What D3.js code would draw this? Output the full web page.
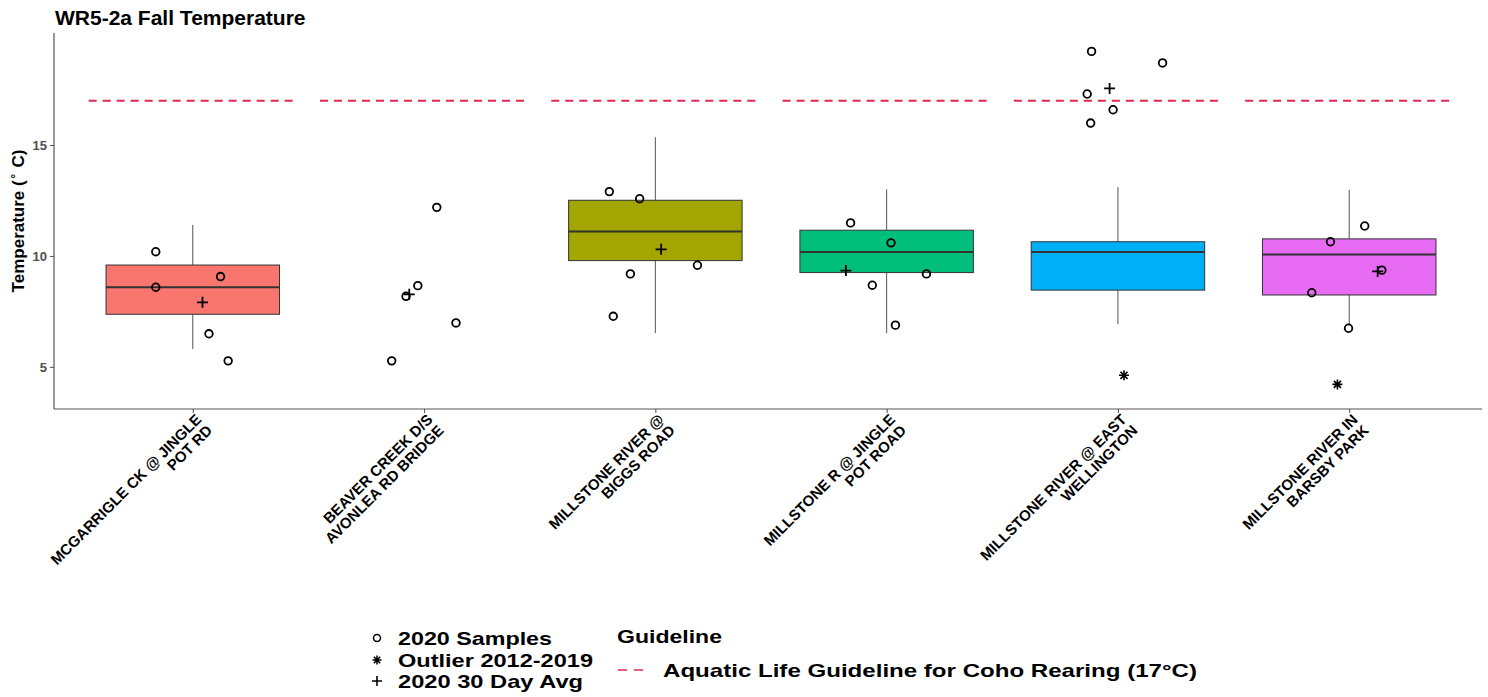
<!DOCTYPE html>
<html>
<head>
<meta charset="utf-8">
<script src="https://cdn.jsdelivr.net/npm/d3@7/dist/d3.min.js"></script>
<style>
  html, body { margin: 0; padding: 0; background: #fff; }
  svg { display: block; font-family: "Liberation Sans", Arial, sans-serif; }
</style>
</head>
<body>
<svg id="chart" width="1488" height="697"></svg>
<script>
// ---------------- DATA ----------------
const title = "WR5-2a Fall Temperature";
const categories = [
  "MCGARRIGLE CK @ JINGLE POT RD",
  "BEAVER CREEK D/S AVONLEA RD BRIDGE",
  "MILLSTONE RIVER @ BIGGS ROAD",
  "MILLSTONE R @ JINGLE POT ROAD",
  "MILLSTONE RIVER @ EAST WELLINGTON",
  "MILLSTONE RIVER IN BARSBY PARK"
];
const labelLines = [
  ["MCGARRIGLE CK @ JINGLE", "POT RD"],
  ["BEAVER CREEK D/S", "AVONLEA RD BRIDGE"],
  ["MILLSTONE RIVER @", "BIGGS ROAD"],
  ["MILLSTONE R @ JINGLE", "POT ROAD"],
  ["MILLSTONE RIVER @ EAST", "WELLINGTON"],
  ["MILLSTONE RIVER IN", "BARSBY PARK"]
];
const boxColors = ["#F8766D", null, "#A3A500", "#00BF7D", "#00B0F6", "#E76BF3"];

// 2012-2019 box statistics (null = no box)
const whiskerLow  = [5.8,  null, 6.52, 6.52, 6.92, 6.9];
const boxQ1       = [7.37, null, 9.79, 9.25, 8.46, 8.24];
const boxMedian   = [8.59, null, 11.10, 10.18, 10.18, 10.07];
const boxQ3       = [9.59, null, 12.51, 11.16, 10.64, 10.77];
const whiskerHigh = [11.4, null, 15.35, 13.0, 13.10, 12.98];

// 2020 samples (values) and their horizontal jitter (fraction of category step)
const sampleValues = [
  [10.19, 8.59, 9.07, 6.49, 5.27],
  [12.19, 8.66, 8.18, 6.98, 5.27],
  [12.90, 12.58, 9.19, 9.58, 7.28],
  [11.49, 10.59, 9.19, 8.68, 6.88],
  [19.22, 18.70, 17.30, 16.59, 15.99],
  [11.35, 10.64, 9.36, 8.34, 6.74]
];
const sampleJitter = [
  [-0.16, -0.16, 0.12, 0.07, 0.153],
  [0.055, -0.027, -0.078, 0.138, -0.14],
  [-0.199, -0.068, -0.108, 0.182, -0.182],
  [-0.156, 0.019, 0.172, -0.062, 0.038],
  [-0.114, 0.193, -0.133, -0.021, -0.118],
  [0.067, -0.081, 0.141, -0.162, -0.003]
];

// 2020 30 day average
const avgValues = [7.91, 8.27, 10.30, 9.34, 17.55, 9.30];
const avgJitter = [0.042, -0.064, 0.025, -0.176, -0.036, 0.123];

// Outliers 2012-2019
const outlierSite = [4, 5];
const outlierValues = [4.62, 4.21];
const outlierJitter = [0.026, -0.051];

const guidelineValue = 17;
const yTicks = [5, 10, 15];
const legendShapeLabels = ["2020 Samples", "Outlier 2012-2019", "2020 30 Day Avg"];
const legendGuideTitle = "Guideline";
const legendGuideLabel = "Aquatic Life Guideline for Coho Rearing (17°C)";

// ---------------- LAYOUT ----------------
const svg = d3.select("#chart");
svg.append("rect").attr("width", 1488).attr("height", 697).attr("fill", "#fff");

const panel = { left: 54, right: 1482, top: 33, bottom: 409 };
const x = d3.scalePoint().domain(categories).range([54, 1488]).padding(0.6);
const step = x.step();
const y = d3.scaleLinear().domain([3.1, 20.05]).range([panel.bottom, panel.top]);

// title
svg.append("text").attr("x", 55).attr("y", 25)
  .attr("font-size", 21).attr("font-weight", "bold").attr("fill", "#000")
  .text(title);

// guideline segments
const gl = svg.append("g");
categories.forEach(c => {
  gl.append("line")
    .attr("x1", x(c) - 0.45 * step).attr("x2", x(c) + 0.44 * step)
    .attr("y1", y(guidelineValue)).attr("y2", y(guidelineValue))
    .attr("stroke", "#E0284F").attr("stroke-width", 2)
    .attr("stroke-dasharray", "8,6");
});

// boxes
const bw = 0.75 * step;
const gb = svg.append("g");
categories.forEach((c, i) => {
  if (boxQ1[i] == null) return;
  const cx = x(c);
  gb.append("line").attr("x1", cx).attr("x2", cx)
    .attr("y1", y(boxQ3[i])).attr("y2", y(whiskerHigh[i]))
    .attr("stroke", "#555").attr("stroke-width", 1);
  gb.append("line").attr("x1", cx).attr("x2", cx)
    .attr("y1", y(boxQ1[i])).attr("y2", y(whiskerLow[i]))
    .attr("stroke", "#555").attr("stroke-width", 1);
  gb.append("rect")
    .attr("x", cx - bw / 2).attr("width", bw)
    .attr("y", y(boxQ3[i])).attr("height", y(boxQ1[i]) - y(boxQ3[i]))
    .attr("fill", boxColors[i]).attr("stroke", "#333").attr("stroke-width", 1);
  gb.append("line").attr("x1", cx - bw / 2).attr("x2", cx + bw / 2)
    .attr("y1", y(boxMedian[i])).attr("y2", y(boxMedian[i]))
    .attr("stroke", "#333").attr("stroke-width", 2);
});

// axes
const yAxis = d3.axisLeft(y).tickValues(yTicks).tickSize(4).tickPadding(3);
const ga = svg.append("g").attr("transform", `translate(${panel.left},0)`).call(yAxis);
ga.select(".domain").remove();
ga.selectAll(".tick line").attr("stroke", "#4d4d4d").attr("stroke-width", 1);
ga.selectAll(".tick text").attr("font-size", 13).attr("font-weight", "bold")
  .attr("fill", "#4d4d4d").attr("font-family", "Liberation Sans, Arial, sans-serif");
svg.append("line").attr("x1", panel.left).attr("x2", panel.left)
  .attr("y1", panel.top).attr("y2", panel.bottom).attr("stroke", "#555").attr("stroke-width", 1.2);
svg.append("line").attr("x1", panel.left).attr("x2", panel.right)
  .attr("y1", panel.bottom).attr("y2", panel.bottom).attr("stroke", "#555").attr("stroke-width", 1.2);

const xAxis = d3.axisBottom(x).tickSize(4).tickFormat("");
const gx = svg.append("g").attr("transform", `translate(0,${panel.bottom})`).call(xAxis);
gx.select(".domain").remove();
gx.selectAll(".tick line").attr("stroke", "#4d4d4d");

// x labels
categories.forEach((c, i) => {
  const g = svg.append("g").attr("transform", `translate(${x(c) + 1},${panel.bottom + 3}) rotate(-45)`);
  const t = g.append("text").attr("text-anchor", "end")
    .attr("font-size", 15).attr("font-weight", "bold").attr("fill", "#000");
  labelLines[i].forEach((ln, k) => {
    t.append("tspan").attr("x", 0).attr("y", 12 + k * 15.5).text(ln);
  });
});

// y label
svg.append("text")
  .attr("transform", `translate(24,${(panel.top + panel.bottom) / 2}) rotate(-90)`)
  .attr("text-anchor", "middle").attr("font-size", 17).attr("font-weight", "bold")
  .html('Temperature (<tspan baseline-shift="super" font-size="12" font-weight="normal">∘</tspan> C)');

// symbols
function plusPath(s) { return `M${-s},0H${s}M0,${-s}V${s}`; }
function starPath(s) {
  const d = s * 0.7071;
  return `M${-s},0H${s}M0,${-s}V${s}M${-d},${-d}L${d},${d}M${-d},${d}L${d},${-d}`;
}

const gp = svg.append("g");
categories.forEach((c, i) => {
  sampleValues[i].forEach((v, k) => {
    gp.append("circle")
      .attr("cx", x(c) + sampleJitter[i][k] * step).attr("cy", y(v))
      .attr("r", 3.8).attr("fill", "none").attr("stroke", "#000").attr("stroke-width", 1.8);
  });
  gp.append("path")
    .attr("transform", `translate(${x(c) + avgJitter[i] * step},${y(avgValues[i])})`)
    .attr("d", plusPath(5.5)).attr("stroke", "#000").attr("stroke-width", 1.8).attr("fill", "none");
});
outlierSite.forEach((s, k) => {
  const c = categories[s];
  gp.append("path")
    .attr("transform", `translate(${x(c) + outlierJitter[k] * step},${y(outlierValues[k])})`)
    .attr("d", starPath(5)).attr("stroke", "#000").attr("stroke-width", 1.6).attr("fill", "none");
});

// legend
const lg = svg.append("g");
const legBase = [645, 667, 688];
const legTextWidth = [154, 195, 185];
const legSym = [
  g => g.append("circle").attr("r", 3.5).attr("fill", "none").attr("stroke", "#000").attr("stroke-width", 1.5),
  g => g.append("path").attr("d", starPath(4.5)).attr("stroke", "#000").attr("stroke-width", 1.5),
  g => g.append("path").attr("d", plusPath(5)).attr("stroke", "#000").attr("stroke-width", 1.6)
];
legendShapeLabels.forEach((lab, k) => {
  const g = lg.append("g").attr("transform", `translate(377,${legBase[k] - 7})`);
  legSym[k](g);
  lg.append("text").attr("x", 398).attr("y", legBase[k])
    .attr("font-size", 19).attr("font-weight", "bold").attr("fill", "#000")
    .attr("textLength", legTextWidth[k]).attr("lengthAdjust", "spacingAndGlyphs")
    .text(lab);
});
lg.append("text").attr("x", 617).attr("y", 643)
  .attr("font-size", 19).attr("font-weight", "bold").attr("fill", "#000")
  .attr("textLength", 105).attr("lengthAdjust", "spacingAndGlyphs").text(legendGuideTitle);
lg.append("line").attr("x1", 618).attr("x2", 643).attr("y1", 670).attr("y2", 670)
  .attr("stroke", "#E0284F").attr("stroke-width", 1.5).attr("stroke-dasharray", "9,7");
lg.append("text").attr("x", 663).attr("y", 677)
  .attr("font-size", 19).attr("font-weight", "bold").attr("fill", "#000")
  .attr("textLength", 534).attr("lengthAdjust", "spacingAndGlyphs").text(legendGuideLabel);
</script>
</body>
</html>
